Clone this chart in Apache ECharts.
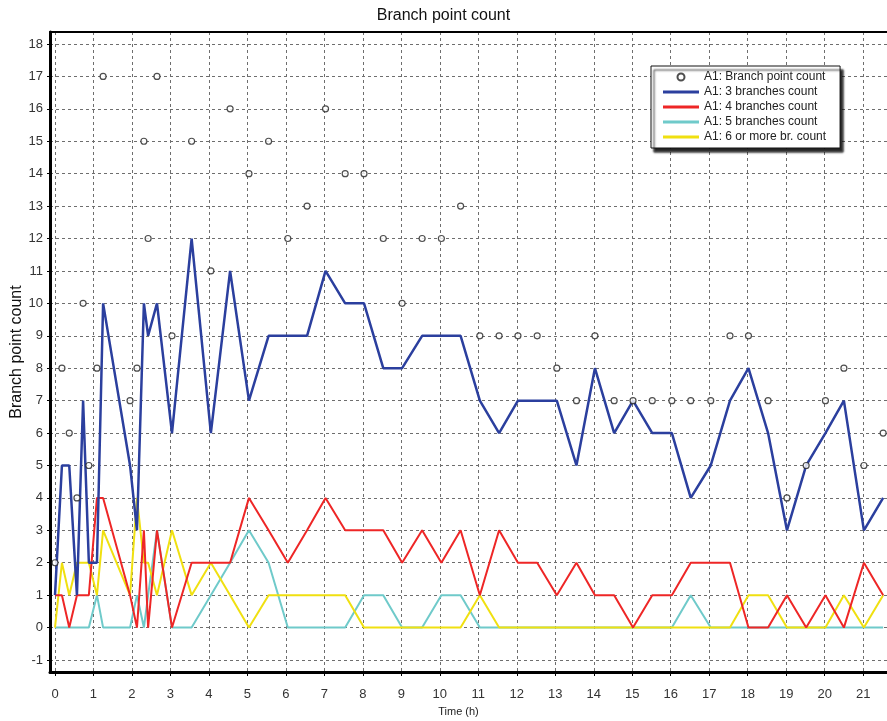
<!DOCTYPE html>
<html>
<head>
<meta charset="utf-8">
<script src="https://cdn.jsdelivr.net/npm/echarts@6/dist/echarts.min.js"></script>
<style>
html,body{margin:0;padding:0;background:#fff;}
#chart{width:887px;height:721px;}
</style>
</head>
<body>
<div id="chart"></div>
<script>
// Time (h)
const times = [0, 0.18, 0.37, 0.57, 0.73, 0.88, 1.09, 1.25, 1.95, 2.13, 2.31, 2.42, 2.65,
  3.04, 3.55, 4.05, 4.55, 5.04, 5.55, 6.05, 6.55, 7.03, 7.54, 8.03, 8.53, 9.02, 9.54, 10.04, 10.54,
  11.04, 11.54, 12.03, 12.53, 13.04, 13.55, 14.03, 14.53, 15.02, 15.52, 16.03, 16.52, 17.04, 17.54,
  18.02, 18.53, 19.02, 19.52, 20.02, 20.5, 21.02, 21.52];
const branchPointCount = [2, 8, 6, 4, 10, 5, 8, 17, 7, 8, 15, 12, 17,
  9, 15, 11, 16, 14, 15, 12, 13, 16, 14, 14, 12, 10, 12, 12, 13,
  9, 9, 9, 9, 8, 7, 9, 7, 7, 7, 7, 7, 7, 9,
  9, 7, 4, 5, 7, 8, 5, 6];
const branches3 = [1, 5, 5, 1, 7, 2, 2, 10, 5, 3, 10, 9, 10,
  6, 12, 6, 11, 7, 9, 9, 9, 11, 10, 10, 8, 8, 9, 9, 9,
  7, 6, 7, 7, 7, 5, 8, 6, 7, 6, 6, 4, 5, 7,
  8, 6, 3, 5, 6, 7, 3, 4];
const branches4 = [1, 1, 0, 1, 1, 1, 4, 4, 1, 0, 3, 0, 3,
  0, 2, 2, 2, 4, 3, 2, 3, 4, 3, 3, 3, 2, 3, 2, 3,
  1, 3, 2, 2, 1, 2, 1, 1, 0, 1, 1, 2, 2, 2,
  0, 0, 1, 0, 1, 0, 2, 1];
const branches5 = [0, 0, 0, 0, 0, 0, 1, 0, 0, 1, 0, 1, 3,
  0, 0, 1, 2, 3, 2, 0, 0, 0, 0, 1, 1, 0, 0, 1, 1,
  0, 0, 0, 0, 0, 0, 0, 0, 0, 0, 0, 1, 0, 0,
  0, 0, 0, 0, 0, 0, 0, 0];
const branches6plus = [0, 2, 1, 2, 2, 2, 1, 3, 1, 4, 2, 2, 1,
  3, 1, 2, 1, 0, 1, 1, 1, 1, 1, 0, 0, 0, 0, 0, 0,
  1, 0, 0, 0, 0, 0, 0, 0, 0, 0, 0, 0, 0, 0,
  1, 1, 0, 0, 0, 1, 0, 1];
const xTickLabels = [0,1,2,3,4,5,6,7,8,9,10,11,12,13,14,15,16,17,18,19,20,21];
const yTickLabels = [-1,0,1,2,3,4,5,6,7,8,9,10,11,12,13,14,15,16,17,18];

const pairs = arr => times.map((t, i) => [t, arr[i]]);
const FONT = '"Liberation Sans", Arial, sans-serif';
const LINE_ICON = 'path://M0,0L36,0L36,3L0,3Z';

const chart = echarts.init(document.getElementById('chart'), null, {renderer: 'canvas'});
const gridDash = {color: '#6e6e6e', width: 1, type: [3, 3]};

chart.setOption({
  animation: false,
  backgroundColor: '#fff',
  title: {
    text: 'Branch point count', left: 'center', top: 3,
    textStyle: {fontFamily: FONT, fontSize: 16, fontWeight: 'normal', color: '#111'}
  },
  legend: {
    orient: 'vertical', left: 651, top: 66,
    padding: [5, 14, 5, 12],
    itemWidth: 36, itemHeight: 7, itemGap: 3, symbolKeepAspect: true,
    backgroundColor: '#fff', borderColor: '#111', borderWidth: 1,
    shadowColor: 'rgba(0,0,0,0.85)', shadowBlur: 2, shadowOffsetX: 3, shadowOffsetY: 4,
    textStyle: {fontFamily: FONT, fontSize: 12, color: '#222'},
    data: [
      {name: 'A1: Branch point count', icon: 'circle'},
      {name: 'A1: 3 branches count', icon: LINE_ICON},
      {name: 'A1: 4 branches count', icon: LINE_ICON},
      {name: 'A1: 5 branches count', icon: LINE_ICON},
      {name: 'A1: 6 or more br. count', icon: LINE_ICON}
    ]
  },
  grid: {left: 50, right: 0, top: 32, bottom: 49, containLabel: false, outerBoundsMode: 'none'},
  xAxis: [{
    type: 'value', min: -0.13, max: 21.62,
    name: 'Time (h)', nameLocation: 'middle', nameGap: 34, nameMoveOverlap: false,
    nameTextStyle: {fontFamily: FONT, fontSize: 11, color: '#222', padding: [0, 20, 0, 0]},
    axisLine: {show: true, onZero: false, lineStyle: {color: '#000', width: 3}},
    axisTick: {show: true, length: 4, inside: false, customValues: xTickLabels, lineStyle: {color: '#000'}},
    axisLabel: {customValues: xTickLabels, margin: 16, fontFamily: FONT, fontSize: 13, color: '#333'},
    splitLine: {show: true, lineStyle: gridDash}
  }, {
    type: 'value', position: 'top', min: -0.13, max: 21.62,
    axisLine: {show: true, onZero: false, lineStyle: {color: '#000', width: 2}},
    axisTick: {show: false}, axisLabel: {show: false}, splitLine: {show: false}
  }],
  yAxis: {
    type: 'value', min: -1.37, max: 18.37,
    name: 'Branch point count', nameLocation: 'middle', nameGap: 25, nameMoveOverlap: false,
    nameTextStyle: {fontFamily: FONT, fontSize: 16, color: '#111'},
    axisLine: {show: true, onZero: false, lineStyle: {color: '#000', width: 3}},
    axisTick: {show: true, length: 3, inside: false, customValues: yTickLabels, lineStyle: {color: '#000'}},
    axisLabel: {customValues: yTickLabels, margin: 7, fontFamily: FONT, fontSize: 13, color: '#333'},
    splitLine: {show: true, lineStyle: gridDash}
  },
  series: [
    {name: 'A1: Branch point count', type: 'scatter', data: pairs(branchPointCount), z: 6,
     symbol: 'circle', symbolSize: 6,
     itemStyle: {color: '#fff', borderColor: '#222', borderWidth: 1.2}},
    {name: 'A1: 3 branches count', type: 'line', data: pairs(branches3), z: 5,
     symbol: 'none', showSymbol: false, lineStyle: {color: '#2b3f9e', width: 2.5}, itemStyle: {color: '#2b3f9e'}},
    {name: 'A1: 4 branches count', type: 'line', data: pairs(branches4), z: 4,
     symbol: 'none', showSymbol: false, lineStyle: {color: '#ee2626', width: 2}, itemStyle: {color: '#ee2626'}},
    {name: 'A1: 5 branches count', type: 'line', data: pairs(branches5), z: 2,
     symbol: 'none', showSymbol: false, lineStyle: {color: '#6fcaca', width: 2}, itemStyle: {color: '#6fcaca'}},
    {name: 'A1: 6 or more br. count', type: 'line', data: pairs(branches6plus), z: 3,
     symbol: 'none', showSymbol: false, lineStyle: {color: '#f0e010', width: 2}, itemStyle: {color: '#f0e010'}}
  ]
});
</script>
</body>
</html>
